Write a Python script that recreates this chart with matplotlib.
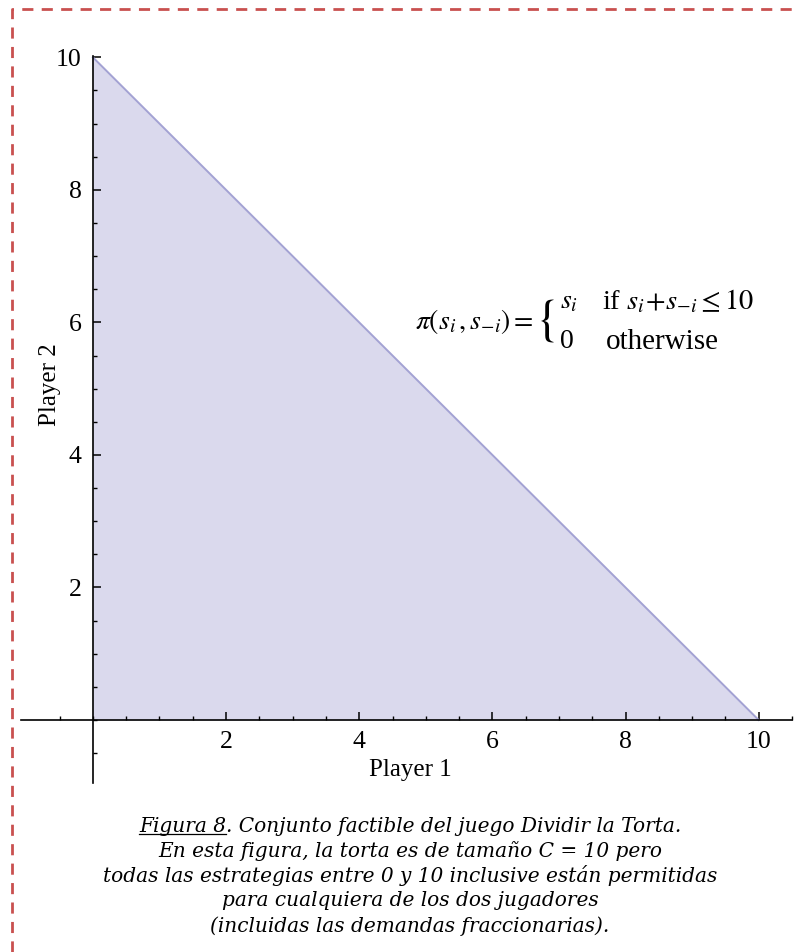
import numpy as np
import matplotlib.pyplot as plt
from matplotlib.lines import Line2D

plt.rcParams['font.family'] = ['Liberation Serif', 'DejaVu Serif']
plt.rcParams['mathtext.fontset'] = 'stix'

# data
edge_x = [0, 10]
edge_y = [10, 0]
major_ticks = [2, 4, 6, 8, 10]
tick_labels = ['2', '4', '6', '8', '10']
caption = [
    "Figura 8. Conjunto factible del juego Dividir la Torta.",
    "En esta figura, la torta es de tamaño C = 10 pero",
    "todas las estrategias entre 0 y 10 inclusive están permitidas",
    "para cualquiera de los dos jugadores",
    "(incluidas las demandas fraccionarias).",
]

W, H = 800, 952
fig = plt.figure(figsize=(W / 100, H / 100), dpi=100)

def fx(px):
    return px / W

def fy(py):
    return 1 - py / H

# axes: x from -1.08..10.5 -> px 21..792, y -0.95..10.02 -> px 783..56
ax = fig.add_axes([fx(21), fy(783), fx(792) - fx(21), fy(56) - fy(783)])
ax.set_xlim(-1.08, 10.5)
ax.set_ylim(-0.95, 10.02)

ax.fill_between(edge_x, edge_y, 0, color='#dad9ed', lw=0)
ax.plot(edge_x, edge_y, color='#a3a2d3', lw=1.4)

for s in ['top', 'right']:
    ax.spines[s].set_visible(False)
for s in ['left', 'bottom']:
    ax.spines[s].set_position(('data', 0))
    ax.spines[s].set_linewidth(1.2)

ax.set_xticks(major_ticks, tick_labels)
ax.set_yticks(major_ticks, tick_labels)
ax.set_xticks(np.arange(-0.5, 10.6, 0.5), minor=True)
ax.set_yticks(np.arange(-0.5, 10.1, 0.5), minor=True)
ax.tick_params(which='major', direction='in', length=5.5, width=1.1, labelsize=18.5, pad=8)
ax.tick_params(which='minor', direction='in', length=3, width=1)

fig.text(fx(410), fy(770), "Player 1", fontsize=18, ha='center', va='center')
fig.text(fx(50), fy(385), "Player 2", fontsize=18, ha='center', va='center', rotation=90)

# payoff formula
fs = 20
fig.text(fx(415), fy(322), r"$\pi(s_i\,, s_{-i}) =$", fontsize=fs, ha='left', va='center')
fig.text(fx(535), fy(321), r"$\{$", fontsize=fs * 1.8, ha='left', va='center')
fig.text(fx(560), fy(302), r"$s_i$", fontsize=fs, ha='left', va='center')
fig.text(fx(602), fy(302), r"if $s_i\!+\!s_{-i} \leq 10$", fontsize=fs + 0.5, ha='left', va='center')
fig.text(fx(560), fy(342), "0", fontsize=fs, ha='left', va='center')
fig.text(fx(606), fy(342), "otherwise", fontsize=fs + 1, ha='left', va='center')

# caption
cap_fs = 14.5
cap_kw = dict(fontsize=cap_fs, ha='center', va='center', style='italic', family='DejaVu Serif')
ys = [826, 851, 876, 901, 926]
texts = [fig.text(fx(410), fy(y), line, **cap_kw) for line, y in zip(caption, ys)]

fig.canvas.draw()
r = fig.canvas.get_renderer()
bb = texts[0].get_window_extent(r)
tmp = fig.text(0, 0, "Figura 8", fontsize=cap_fs, style='italic', family='DejaVu Serif')
w = tmp.get_window_extent(r).width
tmp.remove()
uy = bb.y0 + 2
fig.add_artist(Line2D([bb.x0 / W, (bb.x0 + w) / W], [uy / H, uy / H], color='black', lw=0.9))

# dashed border
fig.add_artist(Line2D([fx(12), fx(12), fx(800)], [fy(952), fy(9), fy(9)],
                      color='#c9504f', lw=2.0, linestyle=(0, (4.0, 3.0))))

fig.savefig('out.png', dpi=100)
